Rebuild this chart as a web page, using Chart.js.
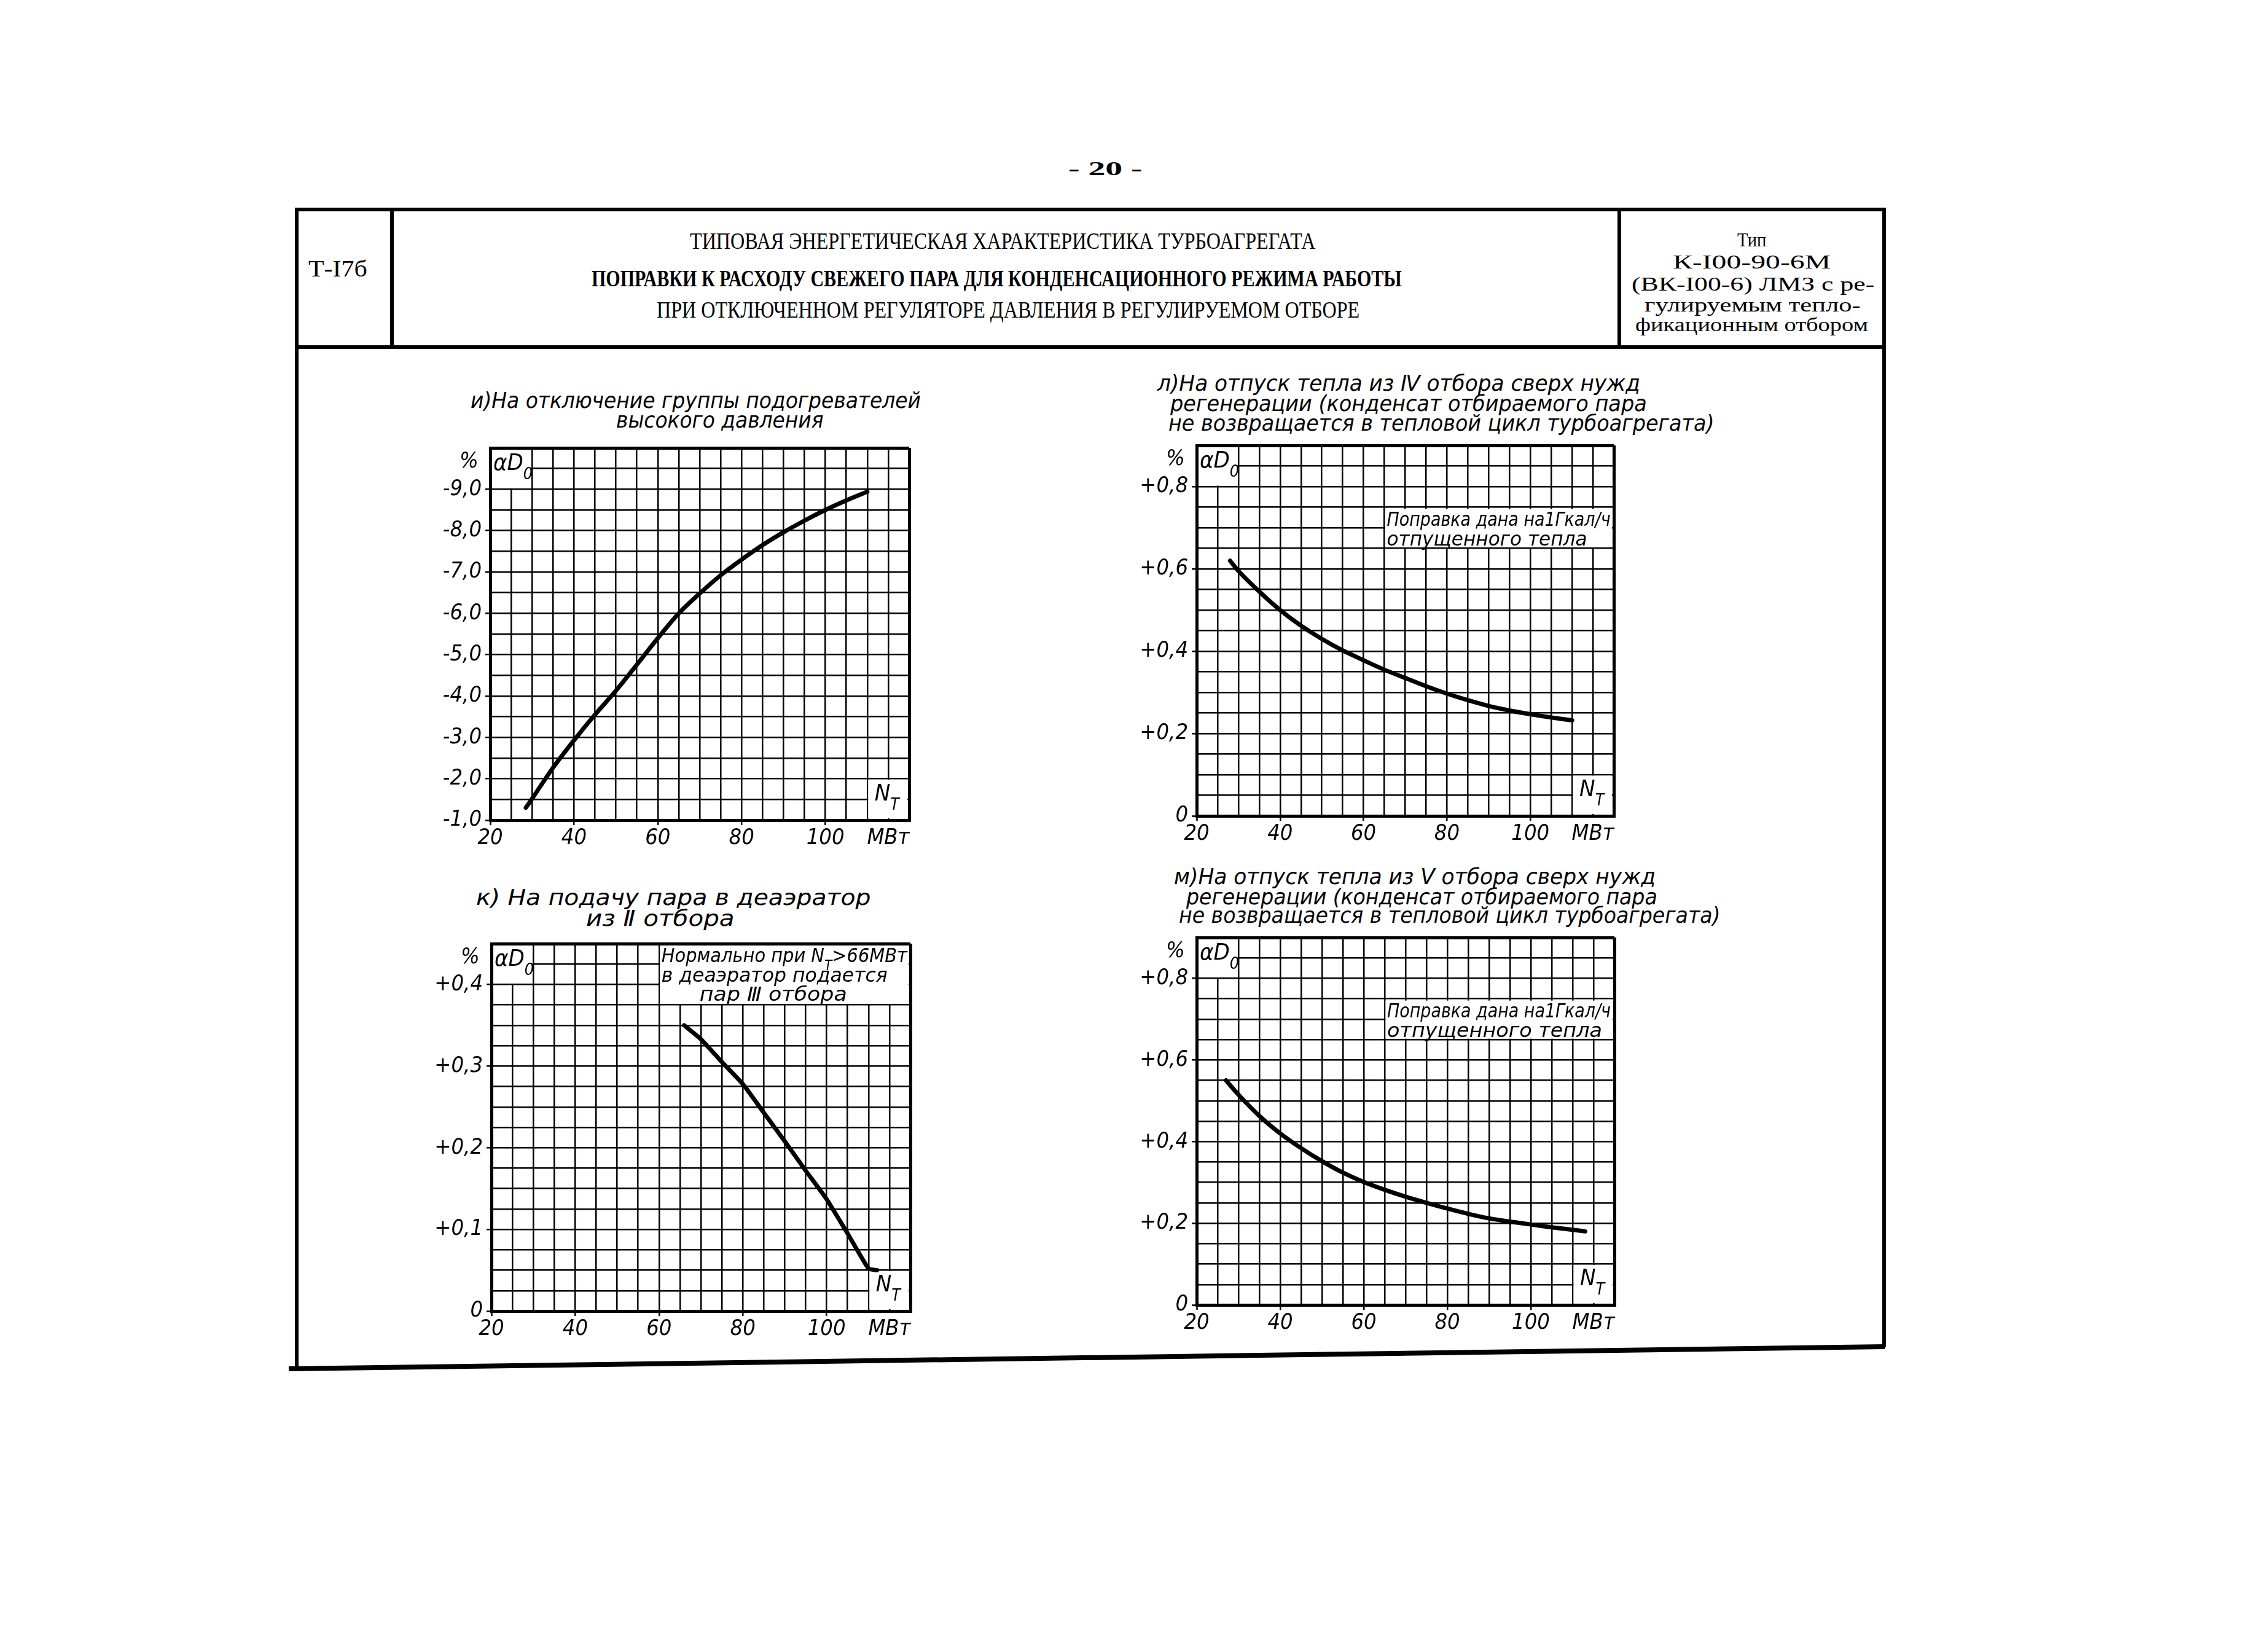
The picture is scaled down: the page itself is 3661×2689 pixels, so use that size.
<!DOCTYPE html>
<html lang="ru">
<head>
<meta charset="utf-8">
<title>Т-I7б</title>
<script src="https://cdn.jsdelivr.net/npm/chart.js@4.4.1/dist/chart.umd.min.js"></script>
<style>
  html, body { margin: 0; padding: 0; background: #fff; }
  body { width: 3661px; height: 2689px; position: relative; overflow: hidden; }
  .t { position: absolute; white-space: nowrap; color: #000; line-height: 1; transform-origin: 0 50%; }
  .hand { font-family: "DejaVu Sans Condensed", "DejaVu Sans", sans-serif; font-style: italic; font-size: 36px; }
  .type { font-family: "Liberation Serif", serif; font-size: 38px; }
  .box { font-size: 31px; }
  canvas { position: absolute; }
  svg { position: absolute; left: 0; top: 0; }
</style>
</head>
<body>
<svg width="3661" height="2689">
  <g stroke="#000" stroke-width="6" fill="none">
    <line x1="483" y1="341" x2="3067" y2="341"/>
    <line x1="483" y1="565" x2="3067" y2="565"/>
    <line x1="483" y1="338" x2="483" y2="2228"/>
    <line x1="3067" y1="338" x2="3067" y2="2193"/>
    <line x1="638" y1="341" x2="638" y2="565"/>
    <line x1="2636" y1="341" x2="2636" y2="565"/>
    <line x1="470" y1="2228" x2="3068" y2="2192" stroke-width="8"/>
  </g>
</svg>

<div class="t type" data-cx="1799" data-y="274" data-w="120" style="font-weight:bold;font-size:32px">- 20 -</div>
<div class="t type" data-cx="550" data-y="437" data-w="96">Т-I7б</div>
<div class="t type" data-cx="1632" data-y="392" data-w="1018">ТИПОВАЯ ЭНЕРГЕТИЧЕСКАЯ ХАРАКТЕРИСТИКА ТУРБОАГРЕГАТА</div>
<div class="t type" data-cx="1622" data-y="453" data-w="1319" style="font-weight:bold">ПОПРАВКИ К РАСХОДУ СВЕЖЕГО ПАРА ДЛЯ КОНДЕНСАЦИОННОГО РЕЖИМА РАБОТЫ</div>
<div class="t type" data-cx="1641" data-y="504" data-w="1144">ПРИ ОТКЛЮЧЕННОМ РЕГУЛЯТОРЕ ДАВЛЕНИЯ В РЕГУЛИРУЕМОМ ОТБОРЕ</div>
<div class="t type box" data-cx="2851" data-y="390" data-w="47">Тип</div>
<div class="t type box" data-cx="2851" data-y="426" data-w="257">К-I00-90-6М</div>
<div class="t type box" data-cx="2853" data-y="462" data-w="395">(ВК-I00-6) ЛМЗ с ре-</div>
<div class="t type box" data-cx="2853" data-y="496" data-w="352">гулируемым тепло-</div>
<div class="t type box" data-cx="2851" data-y="528" data-w="379">фикационным отбором</div>

<div class="t hand" data-x="766" data-y="652" data-w="733">и)На отключение группы подогревателей</div>
<div class="t hand" data-x="1003" data-y="684" data-w="337">высокого давления</div>

<div class="t hand" data-x="1884" data-y="624" data-w="786">л)На отпуск тепла из Ⅳ отбора сверх нужд</div>
<div class="t hand" data-x="1905" data-y="657" data-w="776">регенерации (конденсат отбираемого пара</div>
<div class="t hand" data-x="1902" data-y="689" data-w="888">не возвращается в тепловой цикл турбоагрегата)</div>

<div class="t hand" data-x="775" data-y="1461" data-w="643">к) На подачу  пара  в  деаэратор</div>
<div class="t hand" data-x="954" data-y="1495" data-w="242">из Ⅱ отбора</div>

<div class="t hand" data-x="1911" data-y="1427" data-w="784">м)На отпуск тепла из Ⅴ отбора сверх нужд</div>
<div class="t hand" data-x="1931" data-y="1460" data-w="767">регенерации (конденсат отбираемого пара</div>
<div class="t hand" data-x="1919" data-y="1490" data-w="881">не возвращается в тепловой цикл турбоагрегата)</div>

<script>
const FONT = '"DejaVu Sans Condensed", "DejaVu Sans", sans-serif';

// common x axis, N_T in MW
const xTickLabels = [20, 40, 60, 80, 100];
const xUnitTick = 115;

// и) heaters group switched off, %
const heatersX = [28.5, 30, 35, 40, 45, 50, 55, 60, 65, 70, 75, 80, 85, 90, 95, 100, 105, 110];
const heatersY = [-1.3, -1.52, -2.27, -2.93, -3.55, -4.13, -4.76, -5.4, -6.0, -6.48, -6.92, -7.3, -7.65, -7.96, -8.24, -8.5, -8.73, -8.94];
const heatersYLabels = [-9, -8, -7, -6, -5, -4, -3, -2, -1];

// л) heat from IV extraction
const heatIvX = [28, 30, 35, 40, 45, 50, 55, 60, 65, 70, 75, 80, 85, 90, 95, 100, 105, 110];
const heatIvY = [0.62, 0.595, 0.545, 0.5, 0.462, 0.43, 0.402, 0.378, 0.355, 0.335, 0.315, 0.297, 0.281, 0.267, 0.256, 0.247, 0.239, 0.232];

// к) steam to deaerator from II extraction
const deaerX = [66, 70, 75, 80, 85, 90, 95, 100, 105, 110, 112];
const deaerY = [0.35, 0.333, 0.305, 0.278, 0.243, 0.208, 0.172, 0.137, 0.095, 0.052, 0.05];
const deaerYLabels = [0, 0.1, 0.2, 0.3, 0.4];

// м) heat from V extraction
const heatVX = [27, 30, 35, 40, 45, 50, 55, 60, 65, 70, 75, 80, 85, 90, 95, 100, 105, 110, 113];
const heatVY = [0.55, 0.515, 0.463, 0.42, 0.384, 0.352, 0.324, 0.301, 0.282, 0.265, 0.25, 0.236, 0.223, 0.212, 0.204, 0.197, 0.19, 0.184, 0.18];
const heatYLabels = [0, 0.2, 0.4, 0.6, 0.8];

const has = (list, v) => list.some((l) => Math.abs(l - v) < 1e-7);
const comma = (v) => v.toFixed(1).replace(".", ",");

// draw runs of text (with subscripts) squeezed to a given width
function fitRuns(ctx, runs, x, y, size, width) {
  const widths = runs.map((r) => {
    ctx.font = `italic ${r.sub ? size * 0.7 : size}px ${FONT}`;
    return ctx.measureText(r.t).width;
  });
  const total = widths.reduce((a, b) => a + b, 0);
  const k = width ? width / total : 1;
  ctx.save();
  ctx.translate(x, y);
  ctx.scale(k, 1);
  let cx = 0;
  runs.forEach((r, i) => {
    ctx.font = `italic ${r.sub ? size * 0.7 : size}px ${FONT}`;
    ctx.fillText(r.t, cx, r.sub ? size * 0.4 : 0);
    cx += widths[i];
  });
  ctx.restore();
}

const sheet = {
  id: "sheet",
  beforeDatasetsDraw(chart, args, o) {
    const { ctx, chartArea: a, scales: { x, y } } = chart;
    const row = Math.abs(y.getPixelForValue(o.step) - y.getPixelForValue(0));
    const col = x.getPixelForValue(25) - x.getPixelForValue(20);
    ctx.save();
    ctx.fillStyle = "#fff";
    ctx.fillRect(a.left + 3, a.top + 3, 2 * col - 4.5, 2 * row - 4.5);
    ctx.fillRect(a.right - 2 * col + 1.5, a.bottom - 2 * row + 1.5, 2 * col - 4.5, 2 * row - 4.5);
    if (o.note) {
      const n = o.note;
      const l = x.getPixelForValue(n.x0);
      const r = x.getPixelForValue(n.x1);
      const t = Math.min(y.getPixelForValue(n.y0), y.getPixelForValue(n.y1));
      const b = Math.max(y.getPixelForValue(n.y0), y.getPixelForValue(n.y1));
      ctx.fillRect(l + 1.5, t + 3, r - l - 4.5, b - t - 4.5);
      ctx.fillStyle = "#000";
      ctx.textBaseline = "alphabetic";
      n.lines.forEach((ln) => fitRuns(ctx, ln.runs, l + ln.dx, t + ln.dy, 32, ln.w));
    }
    ctx.fillStyle = "#000";
    ctx.textBaseline = "alphabetic";
    ctx.textAlign = "left";
    fitRuns(ctx, [{ t: "%" }], a.left - 50, a.top + 32, 36);
    fitRuns(ctx, [{ t: "αD" }, { t: "0", sub: true }], a.left + 5, a.top + 36, 38);
    fitRuns(ctx, [{ t: "N" }, { t: "Т", sub: true }], x.getPixelForValue(110) + 12, a.bottom - 32, 38);
    ctx.restore();
  },
};

function makeChart(plot, xs, ys, yOpt, note) {
  const padL = 160, padT = 40, padR = 60, padB = 80;
  const cv = document.createElement("canvas");
  cv.width = plot.w + padL + padR;
  cv.height = plot.h + padT + padB;
  cv.style.left = plot.l - padL + "px";
  cv.style.top = plot.t - padT + "px";
  document.body.appendChild(cv);

  const edge = (c) => c.tick.value === c.scale.min || c.tick.value === c.scale.max;

  return new Chart(cv.getContext("2d"), {
    type: "line",
    data: {
      datasets: [
        {
          data: xs.map((v, i) => ({ x: v, y: ys[i] })),
          borderColor: "#000",
          borderWidth: 7,
          borderCapStyle: "round",
          borderJoinStyle: "round",
          pointRadius: 0,
          fill: false,
          tension: yOpt.tension,
        },
      ],
    },
    options: {
      responsive: false,
      animation: false,
      devicePixelRatio: 1,
      layout: { padding: { left: 0, top: padT, right: padR, bottom: 0 } },
      plugins: {
        legend: { display: false },
        tooltip: { enabled: false },
        sheet: { step: yOpt.step, note: note },
      },
      scales: {
        x: {
          type: "linear",
          min: 20,
          max: 120,
          afterFit: (s) => { s.height = padB; },
          border: { color: "#000", width: 5 },
          grid: {
            color: "#000",
            lineWidth: (c) => (edge(c) ? 5 : 2.5),
            tickLength: 8,
            tickWidth: 2.5,
            tickColor: (c) => (has(xTickLabels, c.tick.value) ? "#000" : "rgba(0,0,0,0)"),
          },
          ticks: {
            stepSize: 5,
            autoSkip: false,
            maxRotation: 0,
            padding: 0,
            color: "#000",
            font: { family: FONT, size: 36, style: "italic" },
            callback: (v) => (has(xTickLabels, v) ? String(v) : v === xUnitTick ? "МВт" : ""),
          },
        },
        y: {
          type: "linear",
          min: yOpt.min,
          max: yOpt.max,
          reverse: !!yOpt.reverse,
          afterFit: (s) => { s.width = padL; },
          border: { color: "#000", width: 5 },
          grid: {
            color: "#000",
            lineWidth: (c) => (edge(c) ? 5 : 2.5),
            tickLength: 8,
            tickWidth: 2.5,
            tickColor: (c) => (has(yOpt.labels, c.tick.value) ? "#000" : "rgba(0,0,0,0)"),
          },
          ticks: {
            stepSize: yOpt.step,
            autoSkip: false,
            padding: 6,
            color: "#000",
            font: { family: FONT, size: 36, style: "italic" },
            callback: (v) => (has(yOpt.labels, v) ? yOpt.fmt(v) : ""),
          },
        },
      },
    },
    plugins: [sheet],
  });
}

function placeTexts() {
  document.querySelectorAll(".t").forEach((el) => {
    const w = el.offsetWidth;
    const target = +el.dataset.w;
    const k = target / w;
    el.style.transform = `scaleX(${k})`;
    const left = el.dataset.cx ? +el.dataset.cx - target / 2 : +el.dataset.x;
    el.style.left = left + "px";
    el.style.top = +el.dataset.y - el.offsetHeight / 2 + "px";
  });
}

document.addEventListener("DOMContentLoaded", () => {
  placeTexts();

  const signed = (v) => (Math.abs(v) < 1e-9 ? "0" : "+" + comma(v));

  // и)
  makeChart({ l: 798, t: 729, w: 682, h: 606 }, heatersX, heatersY, {
    min: -10, max: -1, step: 0.5, reverse: true, tension: 0.3, labels: heatersYLabels,
    fmt: (v) => "-" + comma(Math.abs(v)),
  });

  // л)
  makeChart({ l: 1948, t: 725, w: 679, h: 603 }, heatIvX, heatIvY, {
    min: 0, max: 0.9, step: 0.05, tension: 0.3, labels: heatYLabels, fmt: signed,
  }, {
    x0: 65, x1: 120, y0: 0.65, y1: 0.75,
    lines: [
      { runs: [{ t: "Поправка дана на1Гкал/ч" }], dx: 4, dy: 30, w: 364 },
      { runs: [{ t: "отпущенного тепла" }], dx: 4, dy: 62, w: 326 },
    ],
  });

  // к)
  makeChart({ l: 800, t: 1536, w: 682, h: 598 }, deaerX, deaerY, {
    min: 0, max: 0.45, step: 0.025, tension: 0.15, labels: deaerYLabels, fmt: signed,
  }, {
    x0: 60, x1: 120, y0: 0.375, y1: 0.45,
    lines: [
      { runs: [{ t: "Нормально при N" }, { t: "Т", sub: true }, { t: ">66МВт" }], dx: 4, dy: 30, w: 400 },
      { runs: [{ t: "в деаэратор подается" }], dx: 4, dy: 62, w: 368 },
      { runs: [{ t: "пар Ⅲ отбора" }], dx: 66, dy: 93, w: 240 },
    ],
  });

  // м)
  makeChart({ l: 1948, t: 1526, w: 680, h: 598 }, heatVX, heatVY, {
    min: 0, max: 0.9, step: 0.05, tension: 0.3, labels: heatYLabels, fmt: signed,
  }, {
    x0: 65, x1: 120, y0: 0.65, y1: 0.75,
    lines: [
      { runs: [{ t: "Поправка дана на1Гкал/ч" }], dx: 4, dy: 30, w: 364 },
      { runs: [{ t: "отпущенного тепла" }], dx: 4, dy: 62, w: 350 },
    ],
  });
});
</script>
</body>
</html>
